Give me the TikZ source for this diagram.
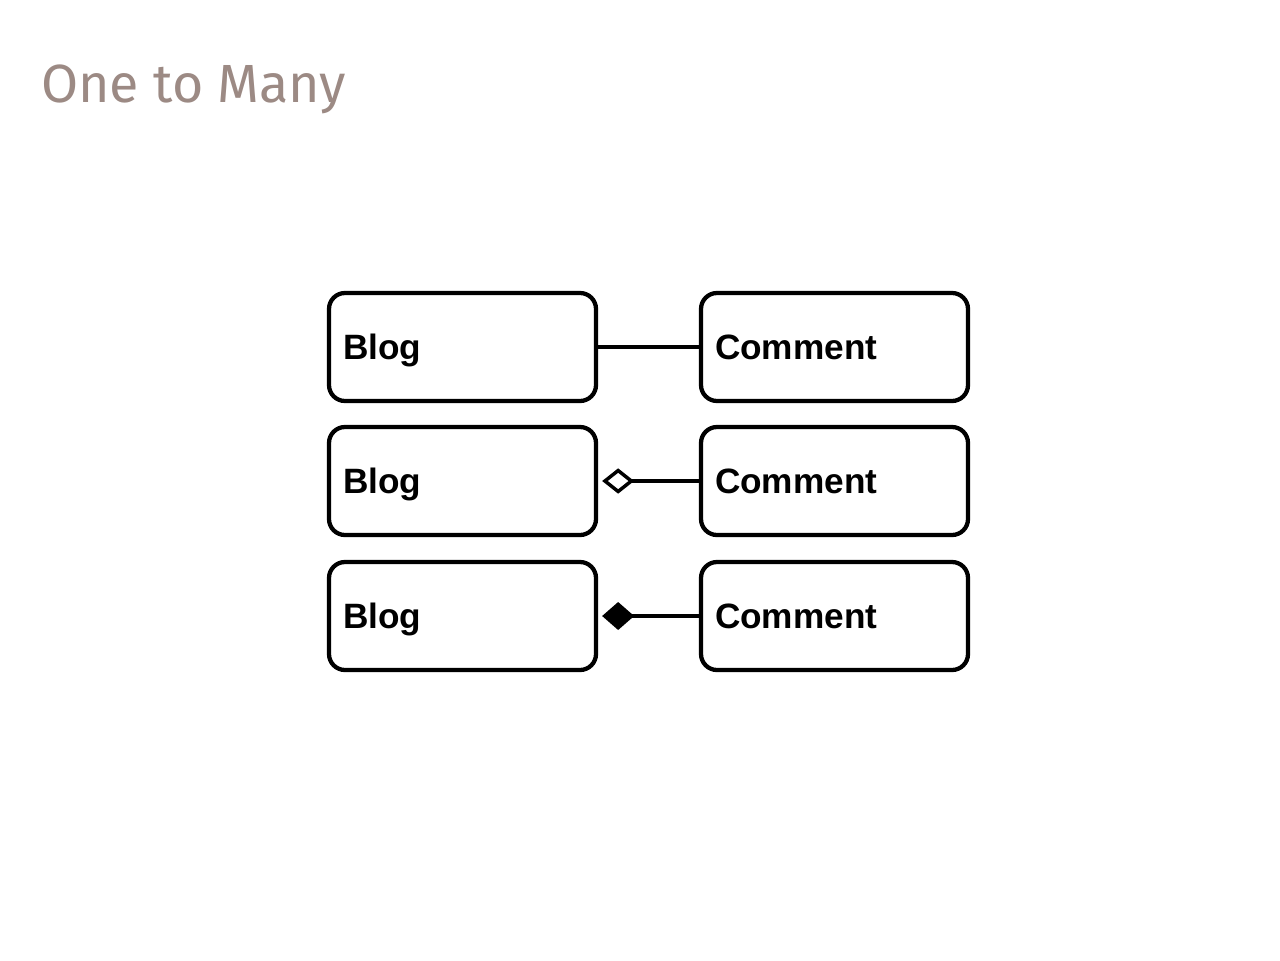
\documentclass[tikz,border=0pt]{standalone}
\usepackage{fontspec}
\setmainfont{Liberation Sans}
\newfontfamily\titlefont{Fira Sans}
\usetikzlibrary{arrows.meta}
\definecolor{titlegray}{HTML}{9C8A84}
\begin{document}
\begin{tikzpicture}[x=0.75pt,y=-0.75pt,
  entity/.style={draw=black,line width=3.2pt,rounded corners=12pt,fill=white,
    text width=179.25pt,inner xsep=10.5pt,inner ysep=0pt,minimum height=81pt,
    align=left,font=\fontsize{26.4pt}{30pt}\selectfont\bfseries,
    text height=19pt,text depth=0pt},
  link/.style={line width=3.2pt},
  opendia/.style={link,{Diamond[open,length=24pt,width=19pt,line width=2.6pt]}-,shorten <=3pt},
  filldia/.style={link,{Diamond[length=24pt,width=21pt]}-,shorten <=3pt}]
\useasboundingbox (0,0) rectangle (1280,960);
\fill[white] (0,0) rectangle (1280,960);
\node[anchor=base west,inner sep=0pt,text=titlegray,font=\titlefont\fontsize{40.3pt}{48pt}\selectfont] (title) at (41,102) {One to Many};
\node[entity] (b1) at (462.5,347) {Blog};
\node[entity] (c1) at (834.5,347) {Comment};
\node[entity] (b2) at (462.5,481) {Blog};
\node[entity] (c2) at (834.5,481) {Comment};
\node[entity] (b3) at (462.5,616) {Blog};
\node[entity] (c3) at (834.5,616) {Comment};
\draw[link] (b1.east) -- (c1.west);
\draw[opendia] (b2.east) -- (c2.west);
\draw[filldia] (b3.east) -- (c3.west);
\end{tikzpicture}
\end{document}
